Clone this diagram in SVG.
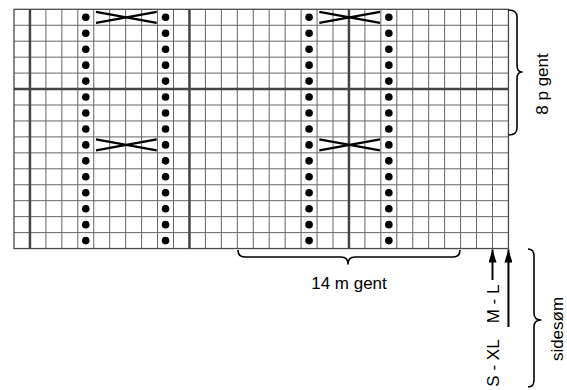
<svg xmlns="http://www.w3.org/2000/svg" width="567" height="390" viewBox="0 0 567 390">
<style>
.grid{fill:none;stroke:#666;stroke-width:1}
.thick{fill:none;stroke:#444;stroke-width:2.5}
.border{fill:none;stroke:#4a4a4a;stroke-width:1.3}
.dot{fill:#000}
.cable{fill:none;stroke:#000;stroke-width:2.2}
.brace{fill:none;stroke:#000;stroke-width:1.6;stroke-linejoin:round}
.shaft{fill:none;stroke:#000;stroke-width:2}
.lbl{font-family:"Liberation Sans",Arial,sans-serif;font-size:17px;fill:#000}
</style>
<defs>
<marker id="ah" viewBox="0 0 13 8" refX="13" refY="4" markerWidth="13" markerHeight="8" orient="auto" markerUnits="userSpaceOnUse">
<path d="M0,0 L13,4 L0,8 Z" fill="#000"/>
</marker>
<circle id="d" r="3.8" class="dot"/>
</defs>
<g id="chart">
<path class="grid" d="M29.95,9.3V248.55M45.9,9.3V248.55M61.85,9.3V248.55M77.8,9.3V248.55M93.75,9.3V248.55M109.7,9.3V248.55M125.65,9.3V248.55M141.6,9.3V248.55M157.55,9.3V248.55M173.5,9.3V248.55M189.45,9.3V248.55M205.4,9.3V248.55M221.35,9.3V248.55M237.3,9.3V248.55M253.25,9.3V248.55M269.2,9.3V248.55M285.15,9.3V248.55M301.1,9.3V248.55M317.05,9.3V248.55M333,9.3V248.55M348.95,9.3V248.55M364.9,9.3V248.55M380.85,9.3V248.55M396.8,9.3V248.55M412.75,9.3V248.55M428.7,9.3V248.55M444.65,9.3V248.55M460.6,9.3V248.55M476.55,9.3V248.55M492.5,9.3V248.55
M14,25.25H508.45M14,41.2H508.45M14,57.15H508.45M14,73.1H508.45M14,89.05H508.45M14,105H508.45M14,120.95H508.45M14,136.9H508.45M14,152.85H508.45M14,168.8H508.45M14,184.75H508.45M14,200.7H508.45M14,216.65H508.45M14,232.6H508.45"/>
<rect class="border" x="14" y="9.3" width="494.45" height="239.25"/>
<path class="thick" d="M29.95,9.3V248.55M189.45,9.3V248.55M348.95,9.3V248.55M14,89.05H508.45"/>
</g>
<g id="dots">
<use href="#d" x="85.78" y="17.28"/><use href="#d" x="85.78" y="33.23"/><use href="#d" x="85.78" y="49.18"/><use href="#d" x="85.78" y="65.13"/><use href="#d" x="85.78" y="81.08"/><use href="#d" x="85.78" y="97.03"/><use href="#d" x="85.78" y="112.98"/><use href="#d" x="85.78" y="128.93"/><use href="#d" x="85.78" y="144.88"/><use href="#d" x="85.78" y="160.83"/><use href="#d" x="85.78" y="176.78"/><use href="#d" x="85.78" y="192.73"/><use href="#d" x="85.78" y="208.68"/><use href="#d" x="85.78" y="224.63"/><use href="#d" x="85.78" y="240.58"/>
<use href="#d" x="165.53" y="17.28"/><use href="#d" x="165.53" y="33.23"/><use href="#d" x="165.53" y="49.18"/><use href="#d" x="165.53" y="65.13"/><use href="#d" x="165.53" y="81.08"/><use href="#d" x="165.53" y="97.03"/><use href="#d" x="165.53" y="112.98"/><use href="#d" x="165.53" y="128.93"/><use href="#d" x="165.53" y="144.88"/><use href="#d" x="165.53" y="160.83"/><use href="#d" x="165.53" y="176.78"/><use href="#d" x="165.53" y="192.73"/><use href="#d" x="165.53" y="208.68"/><use href="#d" x="165.53" y="224.63"/><use href="#d" x="165.53" y="240.58"/>
<use href="#d" x="309.08" y="17.28"/><use href="#d" x="309.08" y="33.23"/><use href="#d" x="309.08" y="49.18"/><use href="#d" x="309.08" y="65.13"/><use href="#d" x="309.08" y="81.08"/><use href="#d" x="309.08" y="97.03"/><use href="#d" x="309.08" y="112.98"/><use href="#d" x="309.08" y="128.93"/><use href="#d" x="309.08" y="144.88"/><use href="#d" x="309.08" y="160.83"/><use href="#d" x="309.08" y="176.78"/><use href="#d" x="309.08" y="192.73"/><use href="#d" x="309.08" y="208.68"/><use href="#d" x="309.08" y="224.63"/><use href="#d" x="309.08" y="240.58"/>
<use href="#d" x="388.83" y="17.28"/><use href="#d" x="388.83" y="33.23"/><use href="#d" x="388.83" y="49.18"/><use href="#d" x="388.83" y="65.13"/><use href="#d" x="388.83" y="81.08"/><use href="#d" x="388.83" y="97.03"/><use href="#d" x="388.83" y="112.98"/><use href="#d" x="388.83" y="128.93"/><use href="#d" x="388.83" y="144.88"/><use href="#d" x="388.83" y="160.83"/><use href="#d" x="388.83" y="176.78"/><use href="#d" x="388.83" y="192.73"/><use href="#d" x="388.83" y="208.68"/><use href="#d" x="388.83" y="224.63"/><use href="#d" x="388.83" y="240.58"/>
</g>
<g id="cables">
<path class="cable" d="M96,11.8L156.7,22.8M96,22.8L156.7,11.8"/>
<path class="cable" d="M319.3,11.8L380,22.8M319.3,22.8L380,11.8"/>
<path class="cable" d="M96,139.4L156.7,150.4M96,150.4L156.7,139.4"/>
<path class="cable" d="M319.3,139.4L380,150.4M319.3,150.4L380,139.4"/>
</g>
<g id="connectors">
<path class="brace" d="M238,250 Q238,257 245,257 L341,257 Q348,257 348,264 Q348,257 355,257 L453,257 Q460,257 460,250"/>
<path class="brace" d="M508.5,10 Q517,10 517,17 L517,65 Q517,72 522,72 Q517,72 517,79 L517,128 Q517,135 508.5,135"/>
<path class="brace" d="M528,249 Q534,249 534,256 L534,313 Q534,320 541,320 Q534,320 534,327 L534,380 Q534,387 528,387"/>
<path class="shaft" d="M492.5,280 V249.5" marker-end="url(#ah)"/>
<path class="shaft" d="M508.45,327 V249.5" marker-end="url(#ah)"/>
</g>
<g id="labels">
<text class="lbl" x="349" y="289" text-anchor="middle">14 m gent</text>
<text class="lbl" transform="translate(548,84) rotate(-90)" text-anchor="middle">8 p gent</text>
<text class="lbl" transform="translate(499,304) rotate(-90)" text-anchor="middle">M - L</text>
<text class="lbl" transform="translate(499,363) rotate(-90)" text-anchor="middle">S - XL</text>
<text class="lbl" transform="translate(563,329) rotate(-90)" text-anchor="middle">sidesøm</text>
</g>
</svg>
